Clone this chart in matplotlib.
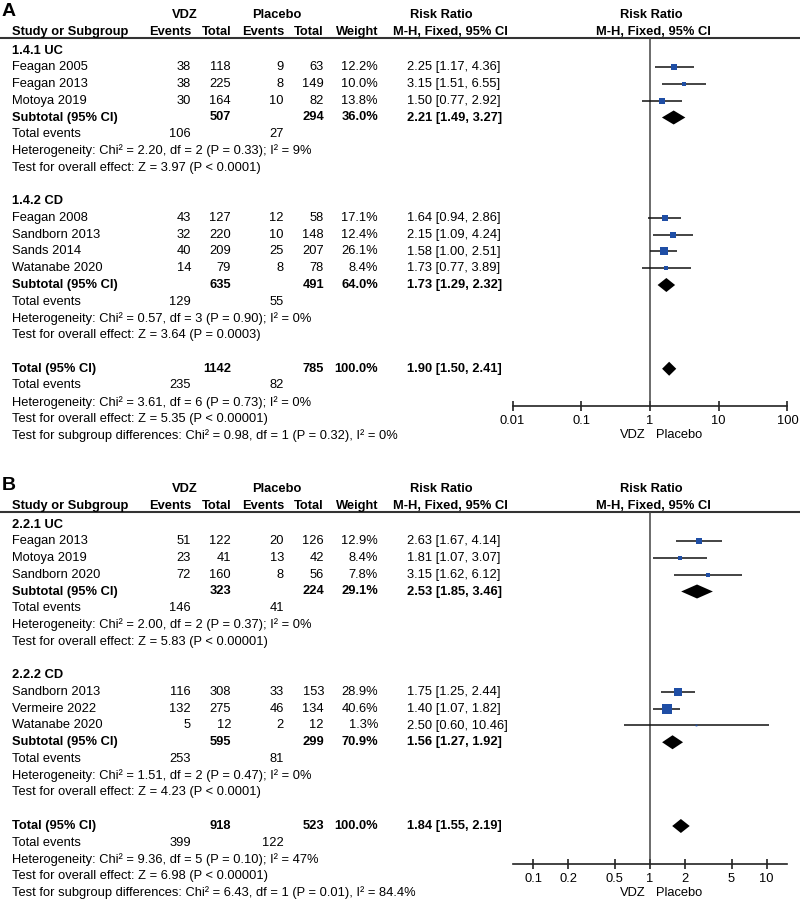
import matplotlib.pyplot as plt
from matplotlib.ticker import FixedLocator, FixedFormatter, NullLocator

plt.rcParams['font.family'] = ['Liberation Sans', 'DejaVu Sans']

# ---------- panel A data ----------
a_groups = ['1.4.1 UC', '1.4.2 CD']
a_group_of = [0, 0, 0, 1, 1, 1, 1]
a_studies = ['Feagan 2005', 'Feagan 2013', 'Motoya 2019',
             'Feagan 2008', 'Sandborn 2013', 'Sands 2014', 'Watanabe 2020']
a_vdz_events = [38, 38, 30, 43, 32, 40, 14]
a_vdz_total = [118, 225, 164, 127, 220, 209, 79]
a_pbo_events = [9, 8, 10, 12, 10, 25, 8]
a_pbo_total = [63, 149, 82, 58, 148, 207, 78]
a_weight = [12.2, 10.0, 13.8, 17.1, 12.4, 26.1, 8.4]
a_rr = [2.25, 3.15, 1.50, 1.64, 2.15, 1.58, 1.73]
a_lo = [1.17, 1.51, 0.77, 0.94, 1.09, 1.00, 0.77]
a_hi = [4.36, 6.55, 2.92, 2.86, 4.24, 2.51, 3.89]
a_sub_vdz_total = [507, 635]
a_sub_pbo_total = [294, 491]
a_sub_weight = [36.0, 64.0]
a_sub_rr = [2.21, 1.73]
a_sub_lo = [1.49, 1.29]
a_sub_hi = [3.27, 2.32]
a_sub_vdz_events = [106, 129]
a_sub_pbo_events = [27, 55]
a_sub_het = ['Heterogeneity: Chi² = 2.20, df = 2 (P = 0.33); I² = 9%',
             'Heterogeneity: Chi² = 0.57, df = 3 (P = 0.90); I² = 0%']
a_sub_z = ['Test for overall effect: Z = 3.97 (P < 0.0001)',
           'Test for overall effect: Z = 3.64 (P = 0.0003)']
a_total = [1142, 785, 100.0, 1.90, 1.50, 2.41]
a_total_events = [235, 82]
a_total_het = 'Heterogeneity: Chi² = 3.61, df = 6 (P = 0.73); I² = 0%'
a_total_z = 'Test for overall effect: Z = 5.35 (P < 0.00001)'
a_subgroup_test = 'Test for subgroup differences: Chi² = 0.98, df = 1 (P = 0.32), I² = 0%'
a_ticks = [0.01, 0.1, 1, 10, 100]
a_tick_labels = ['0.01', '0.1', '1', '10', '100']

# ---------- panel B data ----------
b_groups = ['2.2.1 UC', '2.2.2 CD']
b_group_of = [0, 0, 0, 1, 1, 1]
b_studies = ['Feagan 2013', 'Motoya 2019', 'Sandborn 2020',
             'Sandborn 2013', 'Vermeire 2022', 'Watanabe 2020']
b_vdz_events = [51, 23, 72, 116, 132, 5]
b_vdz_total = [122, 41, 160, 308, 275, 12]
b_pbo_events = [20, 13, 8, 33, 46, 2]
b_pbo_total = [126, 42, 56, 153, 134, 12]
b_weight = [12.9, 8.4, 7.8, 28.9, 40.6, 1.3]
b_rr = [2.63, 1.81, 3.15, 1.75, 1.40, 2.50]
b_lo = [1.67, 1.07, 1.62, 1.25, 1.07, 0.60]
b_hi = [4.14, 3.07, 6.12, 2.44, 1.82, 10.46]
b_sub_vdz_total = [323, 595]
b_sub_pbo_total = [224, 299]
b_sub_weight = [29.1, 70.9]
b_sub_rr = [2.53, 1.56]
b_sub_lo = [1.85, 1.27]
b_sub_hi = [3.46, 1.92]
b_sub_vdz_events = [146, 253]
b_sub_pbo_events = [41, 81]
b_sub_het = ['Heterogeneity: Chi² = 2.00, df = 2 (P = 0.37); I² = 0%',
             'Heterogeneity: Chi² = 1.51, df = 2 (P = 0.47); I² = 0%']
b_sub_z = ['Test for overall effect: Z = 5.83 (P < 0.00001)',
           'Test for overall effect: Z = 4.23 (P < 0.0001)']
b_total = [918, 523, 100.0, 1.84, 1.55, 2.19]
b_total_events = [399, 122]
b_total_het = 'Heterogeneity: Chi² = 9.36, df = 5 (P = 0.10); I² = 47%'
b_total_z = 'Test for overall effect: Z = 6.98 (P < 0.00001)'
b_subgroup_test = 'Test for subgroup differences: Chi² = 6.43, df = 1 (P = 0.01), I² = 84.4%'
b_ticks = [0.1, 0.2, 0.5, 1, 2, 5, 10]
b_tick_labels = ['0.1', '0.2', '0.5', '1', '2', '5', '10']

W, H = 800, 910
FS = 9.3
ROW = 16.75
BLUE = '#1f4ea5'
# column x positions (pixels)
X_NAME, X_VE, X_VT, X_PE, X_PT, X_W, X_RR = 12, 191, 231, 284, 324, 378, 407
FOREST_L, FOREST_R = 512.6, 787.4

fig = plt.figure(figsize=(W / 100, H / 100), dpi=100)
base = fig.add_axes([0, 0, 1, 1])
base.set_xlim(0, W)
base.set_ylim(H, 0)
base.axis('off')


def txt(x, y, s, ha='left', bold=False, size=FS):
    base.text(x, y, s, ha=ha, va='center', fontsize=size,
              fontweight='bold' if bold else 'normal', color='black')


def rr_text(r, l, h):
    return '%.2f [%.2f, %.2f]' % (r, l, h)


def draw_panel(letter, line_y, d, ticks, tick_labels, xlim):
    # header
    txt(2, line_y - 27, letter, bold=True, size=14)
    txt(185, line_y - 23, 'VDZ', ha='center', bold=True)
    txt(277, line_y - 23, 'Placebo', ha='center', bold=True)
    txt(441, line_y - 23, 'Risk Ratio', ha='center', bold=True)
    txt(651, line_y - 23, 'Risk Ratio', ha='center', bold=True)
    hy = line_y - 6
    txt(X_NAME, hy, 'Study or Subgroup', bold=True)
    txt(X_VE, hy, 'Events', ha='right', bold=True)
    txt(X_VT, hy, 'Total', ha='right', bold=True)
    txt(X_PE, hy, 'Events', ha='right', bold=True)
    txt(X_PT, hy, 'Total', ha='right', bold=True)
    txt(X_W, hy, 'Weight', ha='right', bold=True)
    txt(508, hy, 'M-H, Fixed, 95% CI', ha='right', bold=True)
    txt(653, hy, 'M-H, Fixed, 95% CI', ha='center', bold=True)
    base.plot([0, W], [line_y, line_y], color='#333333', lw=1.5)

    def ry(r):
        return line_y + 12.5 + r * ROW

    squares, diamonds = [], []
    row = 0
    for g, gname in enumerate(d['groups']):
        txt(X_NAME, ry(row), gname, bold=True)
        row += 1
        for i, gi in enumerate(d['group_of']):
            if gi != g:
                continue
            y = ry(row)
            txt(X_NAME, y, d['studies'][i])
            txt(X_VE, y, str(d['vdz_events'][i]), ha='right')
            txt(X_VT, y, str(d['vdz_total'][i]), ha='right')
            txt(X_PE, y, str(d['pbo_events'][i]), ha='right')
            txt(X_PT, y, str(d['pbo_total'][i]), ha='right')
            txt(X_W, y, '%.1f%%' % d['weight'][i], ha='right')
            txt(X_RR, y, rr_text(d['rr'][i], d['lo'][i], d['hi'][i]))
            squares.append((y, d['rr'][i], d['lo'][i], d['hi'][i], d['weight'][i]))
            row += 1
        y = ry(row)
        txt(X_NAME, y, 'Subtotal (95% CI)', bold=True)
        txt(X_VT, y, str(d['sub_vdz_total'][g]), ha='right', bold=True)
        txt(X_PT, y, str(d['sub_pbo_total'][g]), ha='right', bold=True)
        txt(X_W, y, '%.1f%%' % d['sub_weight'][g], ha='right', bold=True)
        txt(X_RR, y, rr_text(d['sub_rr'][g], d['sub_lo'][g], d['sub_hi'][g]), bold=True)
        diamonds.append((y, d['sub_rr'][g], d['sub_lo'][g], d['sub_hi'][g]))
        row += 1
        y = ry(row)
        txt(X_NAME, y, 'Total events')
        txt(X_VE, y, str(d['sub_vdz_events'][g]), ha='right')
        txt(X_PE, y, str(d['sub_pbo_events'][g]), ha='right')
        row += 1
        txt(X_NAME, ry(row), d['sub_het'][g])
        row += 1
        txt(X_NAME, ry(row), d['sub_z'][g])
        row += 2
    t = d['total']
    y = ry(row)
    txt(X_NAME, y, 'Total (95% CI)', bold=True)
    txt(X_VT, y, str(t[0]), ha='right', bold=True)
    txt(X_PT, y, str(t[1]), ha='right', bold=True)
    txt(X_W, y, '%.1f%%' % t[2], ha='right', bold=True)
    txt(X_RR, y, rr_text(t[3], t[4], t[5]), bold=True)
    diamonds.append((y, t[3], t[4], t[5]))
    row += 1
    y = ry(row)
    txt(X_NAME, y, 'Total events')
    txt(X_VE, y, str(d['total_events'][0]), ha='right')
    txt(X_PE, y, str(d['total_events'][1]), ha='right')
    row += 1
    txt(X_NAME, ry(row), d['total_het'])
    axis_y = ry(row) + 4
    row += 1
    txt(X_NAME, ry(row), d['total_z'])
    row += 1
    txt(X_NAME, ry(row), d['subgroup_test'])

    # forest axes, y measured in figure pixels
    ax = fig.add_axes([FOREST_L / W, (H - axis_y) / H,
                       (FOREST_R - FOREST_L) / W, (axis_y - line_y) / H])
    ax.set_xscale('log')
    ax.set_xlim(*xlim)
    ax.set_ylim(axis_y, line_y)
    ax.patch.set_alpha(0)
    for s in ['left', 'right', 'top']:
        ax.spines[s].set_visible(False)
    ax.spines['bottom'].set_linewidth(1.2)
    ax.spines['bottom'].set_color('#222222')
    ax.set_yticks([])
    ax.xaxis.set_major_locator(FixedLocator(ticks))
    ax.xaxis.set_major_formatter(FixedFormatter(tick_labels))
    ax.xaxis.set_minor_locator(NullLocator())
    ax.tick_params(axis='x', direction='inout', length=7, width=1.2,
                   color='#222222', labelsize=FS, pad=3)
    ax.axvline(1, color='#444444', lw=1.1)
    for (y, r, l, h, w) in squares:
        ax.plot([l, h], [y, y], color='#111111', lw=1.1, solid_capstyle='butt')
        side = 1.55 * w ** 0.5
        ax.plot([r], [y], marker='s', ms=side * 0.72, color=BLUE, mec=BLUE, mew=0)
    for (y, r, l, h) in diamonds:
        ax.fill([l, r, h, r], [y, y - 7, y, y + 7], color='black', lw=0)
    txt(646, axis_y + 29, 'VDZ', ha='right')
    txt(656, axis_y + 29, 'Placebo')


def pack(p):
    g = globals()
    keys = ['groups', 'group_of', 'studies', 'vdz_events', 'vdz_total', 'pbo_events',
            'pbo_total', 'weight', 'rr', 'lo', 'hi', 'sub_vdz_total', 'sub_pbo_total',
            'sub_weight', 'sub_rr', 'sub_lo', 'sub_hi', 'sub_vdz_events',
            'sub_pbo_events', 'sub_het', 'sub_z', 'total', 'total_events',
            'total_het', 'total_z', 'subgroup_test']
    return {k: g[p + '_' + k] for k in keys}


draw_panel('A', 38, pack('a'), a_ticks, a_tick_labels, (0.01, 100))
draw_panel('B', 512, pack('b'), b_ticks, b_tick_labels, (10 ** -1.178, 10 ** 1.178))

fig.savefig('out.png', dpi=100)
